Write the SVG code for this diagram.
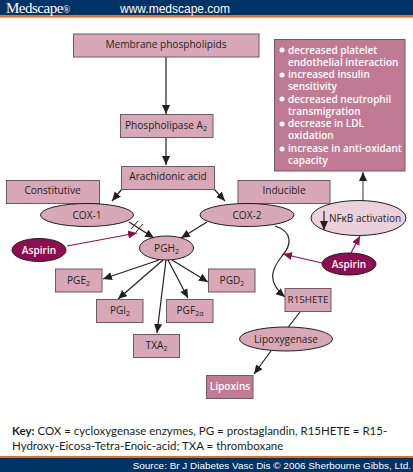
<svg xmlns="http://www.w3.org/2000/svg" width="413" height="472" viewBox="0 0 413 472">
<style>
text{font-family:"Open Sans","Noto Sans",sans-serif;font-size:10.100px;fill:#231f20;text-anchor:middle}
.b{fill:#d8a8b8;stroke:#6d5a62;stroke-width:1}
.d{fill:#c17a94;stroke:#6d5a62;stroke-width:1}
.a{fill:#900c50;stroke:#231f20;stroke-width:1}
.w{fill:#fff;font-weight:600}
.l{fill:#fff;text-anchor:start;font-size:10px;font-weight:600}
.c{fill:none;stroke:#231f20;stroke-width:1.2;marker-end:url(#k)}
.p{fill:none;stroke:#900c50;stroke-width:1.2;marker-end:url(#r)}
.u{font-size:7px}
</style>
<defs>
<marker id="k" markerUnits="userSpaceOnUse" markerWidth="10" markerHeight="9" refX="9" refY="4" orient="auto"><path d="M0 0L9 4L0 8z" fill="#231f20"/></marker>
<marker id="r" markerUnits="userSpaceOnUse" markerWidth="10" markerHeight="9" refX="9" refY="4" orient="auto"><path d="M0 0L9 4L0 8z" fill="#900c50"/></marker>
</defs>
<rect width="413" height="472" fill="#fff"/>
<g id="header">
<rect width="413" height="15.500" fill="#003366"/><rect y="15.500" width="413" height="2" fill="#f26a10"/>
<text x="38" y="12.500" style="font-family:'Liberation Serif',serif;font-size:15px;fill:#fff;letter-spacing:-.5px">Medscape<tspan font-size="10">®</tspan></text>
<text x="175" y="12.500" style="font-family:'Liberation Sans',sans-serif;font-size:12px;fill:#fff">www.medscape.com</text>
</g>
<g id="connectors">
<path class="c" d="M166 57V114"/>
<path class="c" d="M166 137V165"/>
<path class="c" d="M122 189L112 201"/>
<path class="c" d="M214 189L225 201"/>
<path class="c" d="M129 222L154 238"/>
<path class="c" d="M207 222L181 238"/>
<path d="M131 229L138 221M136 232L143 224" stroke="#231f20" stroke-width="1" fill="none"/>
<path class="p" d="M67 246L137 233"/>
<path class="c" d="M159 260L103 279"/>
<path class="c" d="M163 260L118 299"/>
<path class="c" d="M166 260L157 333"/>
<path class="c" d="M168 260L188 298"/>
<path class="c" d="M172 260L208 282"/>
<path class="c" d="M275 226C294 232 291 246 282 256C271 270 267 282 285 297"/>
<path class="c" d="M300 312L286 330M271 351L254 374"/>
<path class="p" d="M322 263L283 254"/>
<path class="p" d="M351 253L360 236"/>
<path class="c" d="M363 201V172" style="stroke:#555"/>
</g>
<g id="membrane"><rect class="b" x="73.500" y="34" width="185.500" height="23"/><text x="166" y="48">Membrane phospholipids</text></g>
<g id="phospholipase"><rect class="b" x="120.500" y="114.500" width="92.500" height="23"/><text x="166" y="129">Phospholipase A<tspan class="u" dy="2">2</tspan></text></g>
<g id="arachidonic"><rect class="b" x="121.500" y="166.500" width="93" height="23"/><text x="168" y="180">Arachidonic acid</text></g>
<g id="constitutive"><rect class="b" x="6.500" y="180.500" width="93" height="23"/><text x="52.500" y="194">Constitutive</text></g>
<g id="inducible"><rect class="b" x="238" y="180.500" width="92" height="23"/><text x="284" y="194">Inducible</text></g>
<g id="effects"><rect class="d" x="274.500" y="39.500" width="130.500" height="131.500"/>
<circle cx="282" cy="50" r="2.500" fill="#fff"/><circle cx="282" cy="75" r="2.500" fill="#fff"/><circle cx="282" cy="99" r="2.500" fill="#fff"/><circle cx="282" cy="124" r="2.500" fill="#fff"/><circle cx="282" cy="149" r="2.500" fill="#fff"/>
<text class="l" x="288" y="53.500">decreased platelet</text><text class="l" x="288" y="65.500">endothelial interaction</text>
<text class="l" x="288" y="78">increased insulin</text><text class="l" x="288" y="90">sensitivity</text>
<text class="l" x="288" y="102.500">decreased neutrophil</text><text class="l" x="288" y="114.500">transmigration</text>
<text class="l" x="288" y="127">decrease in LDL</text><text class="l" x="288" y="139">oxidation</text>
<text class="l" x="288" y="151.500">increase in anti-oxidant</text><text class="l" x="288" y="163.500">capacity</text></g>
<g id="cox1"><ellipse class="b" cx="87" cy="215" rx="46.500" ry="11.500" style="stroke:#231f20"/><text x="87" y="219">COX-1</text></g>
<g id="cox2"><ellipse class="b" cx="247" cy="215" rx="47" ry="11.500" style="stroke:#231f20"/><text x="247" y="219">COX-2</text></g>
<g id="nfkb"><ellipse cx="358.500" cy="218" rx="47.500" ry="17.500" fill="#ecd0db" stroke="#231f20"/><path class="c" d="M324 211V230"/><text x="365" y="222" style="font-size:10px">NFκB activation</text></g>
<g id="aspirin1"><ellipse class="a" cx="39" cy="250" rx="27" ry="11.500"/><text class="w" x="39" y="254">Aspirin</text></g>
<g id="aspirin2"><ellipse class="a" cx="349" cy="264" rx="27" ry="11"/><text class="w" x="349" y="268">Aspirin</text></g>
<g id="pgh2"><ellipse class="b" cx="166.500" cy="248" rx="27" ry="12" style="stroke:#231f20"/><text x="166.500" y="252">PGH<tspan class="u" dy="2">2</tspan></text></g>
<g id="pge2"><rect class="b" x="55.500" y="269" width="46.500" height="23"/><text x="78.500" y="284">PGE<tspan class="u" dy="2">2</tspan></text></g>
<g id="pgd2"><rect class="b" x="208.500" y="269" width="46.500" height="23"/><text x="232" y="284">PGD<tspan class="u" dy="2">2</tspan></text></g>
<g id="pgi2"><rect class="b" x="96.500" y="299.500" width="46.500" height="23"/><text x="120" y="314">PGI<tspan class="u" dy="2">2</tspan></text></g>
<g id="pgf2a"><rect class="b" x="166.500" y="299.500" width="46.500" height="23"/><text x="190" y="314">PGF<tspan class="u" dy="2">2α</tspan></text></g>
<g id="txa2"><rect class="b" x="133.500" y="334.500" width="46" height="23"/><text x="156.500" y="349">TXA<tspan class="u" dy="2">2</tspan></text></g>
<g id="r15hete"><rect class="b" x="285" y="288.500" width="46" height="23"/><text x="308" y="303" style="font-size:9.800px">R15HETE</text></g>
<g id="lipoxygenase"><ellipse class="b" cx="286" cy="339" rx="46.500" ry="12" style="stroke:#231f20"/><text x="286" y="343">Lipoxygenase</text></g>
<g id="lipoxins"><rect class="d" x="206.500" y="375.500" width="46.500" height="23"/><text class="w" x="230" y="390">Lipoxins</text></g>
<g id="key">
<text x="12" y="435" style="text-anchor:start;font-family:Lato,sans-serif;font-size:11.500px"><tspan font-weight="700">Key:</tspan> COX = cycloxygenase enzymes, PG = prostaglandin, R15HETE = R15-</text>
<text x="12" y="450" style="text-anchor:start;font-family:Lato,sans-serif;font-size:11.500px">Hydroxy-Eicosa-Tetra-Enoic-acid; TXA = thromboxane</text>
</g>
<g id="footer">
<rect y="456" width="413" height="16" fill="#003366"/><rect y="456" width="413" height="2" fill="#f26a10"/>
<text x="411" y="468.500" style="text-anchor:end;font-family:'Liberation Sans',sans-serif;font-size:9.950px;fill:#fff">Source: Br J Diabetes Vasc Dis © 2006 Sherbourne Gibbs, Ltd.</text>
</g>
</svg>
